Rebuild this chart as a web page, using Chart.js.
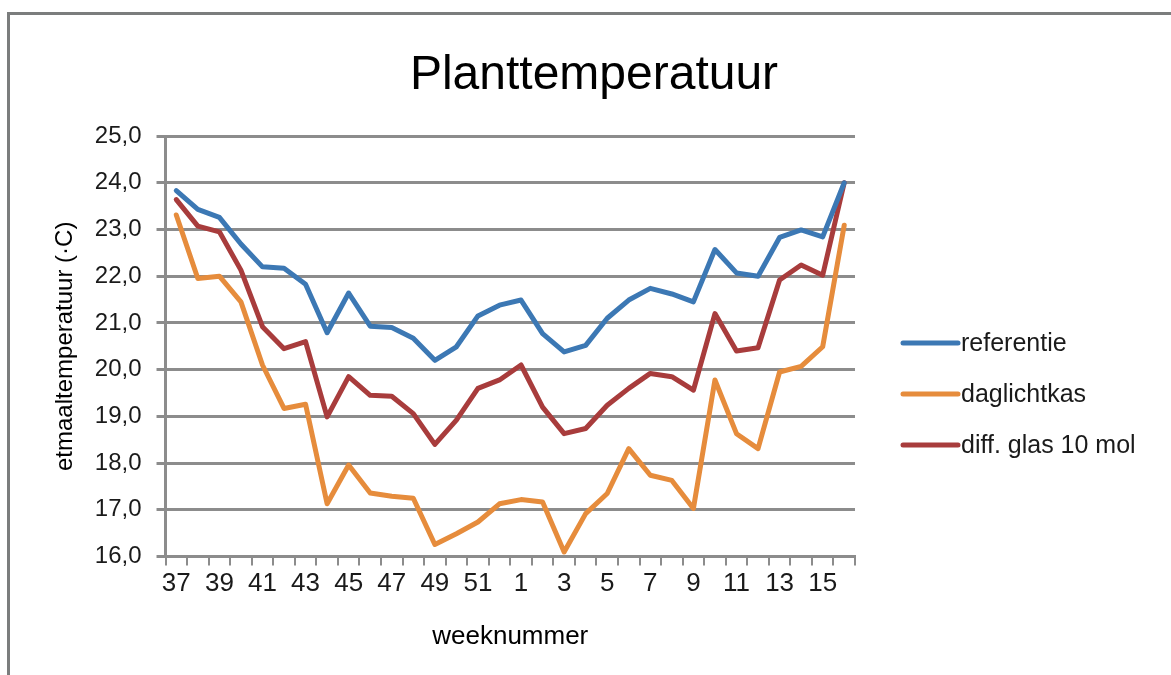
<!DOCTYPE html>
<html>
<head>
<meta charset="utf-8">
<title>Planttemperatuur</title>
<script src="https://cdn.jsdelivr.net/npm/chart.js@4/dist/chart.umd.min.js"></script>
<style>
  body { margin: 0; background: #fff; }
  #wrap { position: relative; width: 1171px; height: 675px; overflow: hidden; }
  #frame {
    position: absolute; left: 7px; top: 12px; right: -10px; bottom: -10px;
    border-top: 3px solid #7b7d7d; border-left: 3px solid #7b7d7d;
  }
  canvas { position: absolute; left: 0; top: 0; }
</style>
</head>
<body>
<div id="wrap">
  <div id="frame"></div>
  <canvas id="chart" width="1171" height="675"></canvas>
</div>
<script>
// week numbers 37..52, 1..16
const weeks = [37, 38, 39, 40, 41, 42, 43, 44, 45, 46, 47, 48, 49, 50, 51, 52,
               1, 2, 3, 4, 5, 6, 7, 8, 9, 10, 11, 12, 13, 14, 15, 16];

const referentie = [23.83, 23.43, 23.26, 22.69, 22.20, 22.17, 21.83, 20.79, 21.64, 20.93, 20.90, 20.67,
                    20.20, 20.49, 21.15, 21.38, 21.49, 20.77, 20.38, 20.52, 21.10, 21.49, 21.74, 21.62,
                    21.45, 22.57, 22.07, 22.00, 22.83, 22.99, 22.84, 24.00];

const daglichtkas = [23.31, 21.95, 22.00, 21.45, 20.10, 19.17, 19.26, 17.13, 17.96, 17.36, 17.29, 17.25,
                     16.26, 16.49, 16.74, 17.13, 17.22, 17.17, 16.10, 16.92, 17.35, 18.31, 17.74, 17.63,
                     17.03, 19.78, 18.63, 18.31, 19.95, 20.07, 20.49, 23.09];

const diffGlas = [23.64, 23.07, 22.95, 22.13, 20.92, 20.45, 20.60, 18.99, 19.85, 19.45, 19.43, 19.06,
                  18.40, 18.92, 19.60, 19.78, 20.10, 19.20, 18.63, 18.74, 19.24, 19.60, 19.92, 19.85,
                  19.56, 21.20, 20.40, 20.47, 21.92, 22.24, 22.02, 24.00];

const seriesNames = ['referentie', 'daglichtkas', 'diff. glas 10 mol'];
const seriesColors = ['#3c78b4', '#e68c3c', '#a83c3c'];
const chartTitle = 'Planttemperatuur';

const FONT = '"Liberation Sans", Arial, Helvetica, sans-serif';
const gridGrey = '#8c8c8c';

// title centred on the whole frame + legend at the right (line + label)
const decorations = {
  id: 'decorations',
  afterDraw(chart) {
    const ctx = chart.ctx;
    const area = chart.chartArea;
    ctx.save();
    ctx.fillStyle = '#000';
    ctx.font = '48px ' + FONT;
    ctx.textAlign = 'center';
    ctx.textBaseline = 'middle';
    ctx.fillText(chartTitle, 594, 76);

    const x0 = area.right + 48;
    chart.data.datasets.forEach((ds, i) => {
      const y = 343 + i * 51;
      ctx.strokeStyle = ds.borderColor;
      ctx.lineWidth = 5;
      ctx.lineCap = 'round';
      ctx.beginPath();
      ctx.moveTo(x0, y);
      ctx.lineTo(x0 + 55, y);
      ctx.stroke();
      ctx.fillStyle = '#1a1a1a';
      ctx.font = '25px ' + FONT;
      ctx.textBaseline = 'middle';
      ctx.textAlign = 'left';
      ctx.fillText(ds.label, x0 + 58, y + 1);
    });
    ctx.restore();
  }
};

const datasets = [referentie, daglichtkas, diffGlas].map((vals, i) => ({
  label: seriesNames[i],
  data: vals,
  borderColor: seriesColors[i],
  backgroundColor: seriesColors[i],
  borderWidth: 5,
  pointRadius: 0,
  pointHoverRadius: 0,
  tension: 0,
  fill: false,
  borderJoinStyle: 'round',
  borderCapStyle: 'round'
}));

new Chart(document.getElementById('chart'), {
  type: 'line',
  data: { labels: weeks.map(String), datasets },
  options: {
    responsive: false,
    animation: false,
    layout: { padding: { left: 39, right: 316, top: 136, bottom: 23 } },
    plugins: {
      legend: { display: false },
      tooltip: { enabled: false },
      title: { display: false }
    },
    scales: {
      x: {
        offset: true,
        grid: {
          offset: true,
          drawOnChartArea: false,
          drawTicks: true,
          tickLength: 9,
          color: gridGrey,
          lineWidth: 2
        },
        border: { display: true, color: gridGrey, width: 3 },
        ticks: {
          autoSkip: false,
          maxRotation: 0,
          padding: 3,
          color: '#1a1a1a',
          font: { family: FONT, size: 26 },
          callback: (v, i) => (i % 2 === 0 ? weeks[i] : '')
        },
        title: {
          display: true,
          text: 'weeknummer',
          color: '#000',
          font: { family: FONT, size: 26 },
          padding: { top: 18, bottom: 0 }
        }
      },
      y: {
        min: 16,
        max: 25,
        grid: { color: gridGrey, lineWidth: 3, tickLength: 9, tickColor: gridGrey },
        border: { display: true, color: gridGrey, width: 3 },
        ticks: {
          stepSize: 1,
          padding: 15,
          color: '#1a1a1a',
          font: { family: FONT, size: 24 },
          callback: v => v.toFixed(1).replace('.', ',')
        },
        title: {
          display: true,
          text: 'etmaaltemperatuur (·C)',
          color: '#000',
          font: { family: FONT, size: 24 },
          padding: { top: 12, bottom: 0 }
        }
      }
    }
  },
  plugins: [decorations]
});
</script>
</body>
</html>
